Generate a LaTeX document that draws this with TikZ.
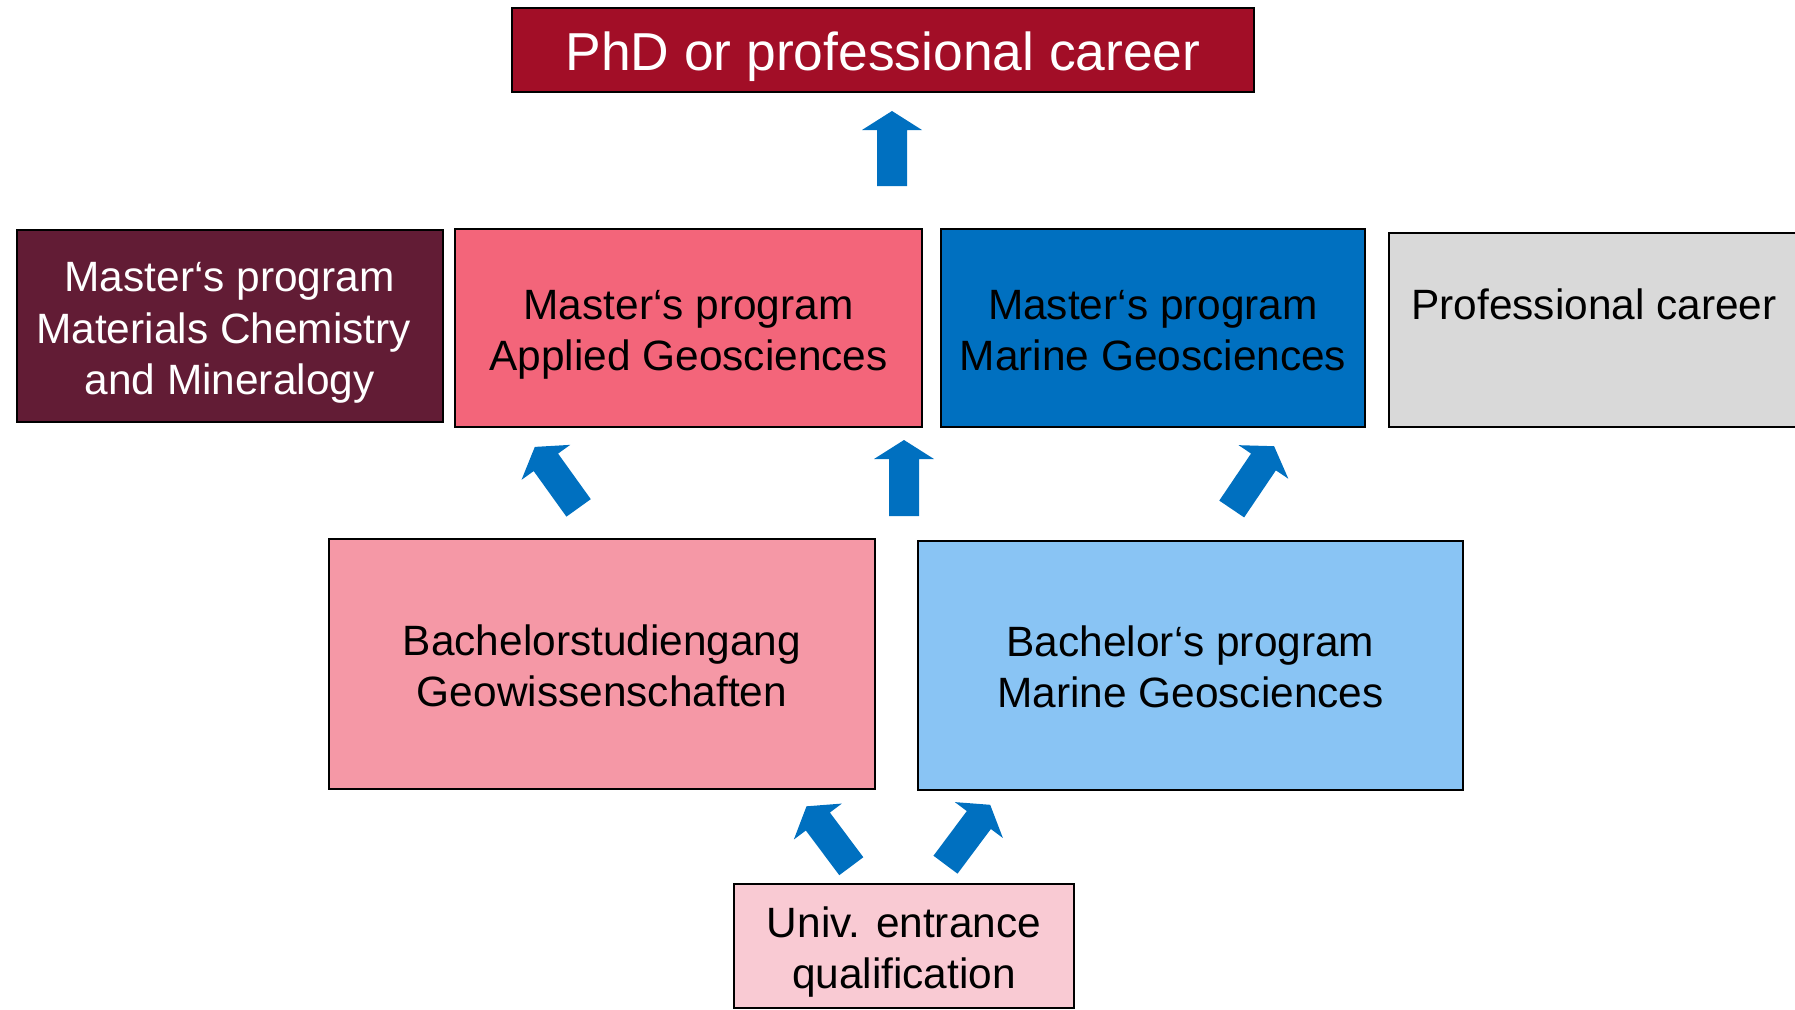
\documentclass[tikz,border=0pt]{standalone}
\usepackage{fontspec}
\setmainfont{Liberation Sans}
\usetikzlibrary{calc}
\definecolor{phdred}{HTML}{A20E27}
\definecolor{matmaroon}{HTML}{621C35}
\definecolor{appliedpink}{HTML}{F3657A}
\definecolor{marineblue}{HTML}{0070C0}
\definecolor{profgray}{HTML}{D9D9D9}
\definecolor{geopink}{HTML}{F598A6}
\definecolor{marinelight}{HTML}{89C4F4}
\definecolor{univpink}{HTML}{F9CAD3}
\definecolor{arrowblue}{HTML}{0070C0}
\newcommand{\topstr}{\rule{0pt}{1.015em}}
\newcommand{\botstr}{\rule[-0.212em]{0pt}{0.212em}}
\newcommand{\blkarrow}[3]{%
  \coordinate (#3hb) at ($(#2)!9.5pt!(#1)$);
  \fill[flow] ($(#1)!7.5pt!90:(#2)$) -- ($(#3hb)!7.5pt!90:(#2)$) -- ($(#3hb)!15pt!90:(#2)$) -- (#2)
    -- ($(#3hb)!15pt!-90:(#2)$) -- ($(#3hb)!7.5pt!-90:(#2)$) -- ($(#1)!7.5pt!-90:(#2)$) -- cycle;}
\begin{document}
\begin{tikzpicture}[x=0.5pt,y=-0.5pt,
  box/.style={draw=black, line width=1pt, rectangle, inner sep=0pt, align=center,
    font=\fontsize{21.2pt}{25.6pt}\selectfont},
  flow/.style={fill=arrowblue}]
\useasboundingbox (0,0) rectangle (1795,1009);
\begin{scope}
\clip (0,0) rectangle (1795,1009);
% top
\node[box, fill=phdred, text=white, minimum width=371pt, minimum height=42pt,
  font=\fontsize{26.7pt}{32pt}\selectfont] (phd) at (883,49.5) {\topstr PhD or professional career\botstr};
% masters row
\node[box, fill=matmaroon, text=white, minimum width=213pt, minimum height=96pt] (mat) at (229.5,326)
  {\topstr Master‘s program\\Materials Chemistry\rule{0.278em}{0pt}\\and Mineralogy\botstr};
\node[box, fill=appliedpink, minimum width=233.5pt, minimum height=99pt] (app) at (688.5,328)
  {\topstr Master‘s program\\Applied Geosciences\botstr};
\node[box, fill=marineblue, minimum width=212pt, minimum height=99pt] (mar) at (1153,328)
  {\topstr Master‘s program\\Marine Geosciences\botstr};
\node[box, fill=profgray, minimum width=206pt, minimum height=97pt] (prof) at (1595,329.5) {};
\node[font=\fontsize{21.2pt}{25.6pt}\selectfont, inner sep=0pt] (proftext) at (1594,304) {Professional career};
% bachelors
\node[box, fill=geopink, minimum width=272.8pt, minimum height=124.8pt] (bgeo) at (602,664)
  {\topstr Bachelorstudiengang\\Geowissenschaften\botstr};
\node[box, fill=marinelight, minimum width=272.5pt, minimum height=124.7pt] (bmar) at (1190.5,665.3)
  {\topstr Bachelor‘s program\\Marine Geosciences\botstr};
% entrance
\node[box, fill=univpink, minimum width=170pt, minimum height=61.7pt] (univ) at (904,946)
  {\topstr Univ. entrance\\qualification\botstr};
\end{scope}
% arrows
\coordinate (a1b) at (892,186);   \coordinate (a1t) at (892,111);
\coordinate (a2b) at (578.6,507.9); \coordinate (a2t) at (534.8,446.9);
\coordinate (a3b) at (904,516);   \coordinate (a3t) at (904,440);
\coordinate (a4b) at (1231.7,509); \coordinate (a4t) at (1274.1,446.2);
\coordinate (a5b) at (851.3,866.2); \coordinate (a5t) at (806.5,806.3);
\coordinate (a6b) at (945.5,864.7); \coordinate (a6t) at (990.2,804.8);
\blkarrow{a1b}{a1t}{a1}
\blkarrow{a2b}{a2t}{a2}
\blkarrow{a3b}{a3t}{a3}
\blkarrow{a4b}{a4t}{a4}
\blkarrow{a5b}{a5t}{a5}
\blkarrow{a6b}{a6t}{a6}
\end{tikzpicture}
\end{document}
